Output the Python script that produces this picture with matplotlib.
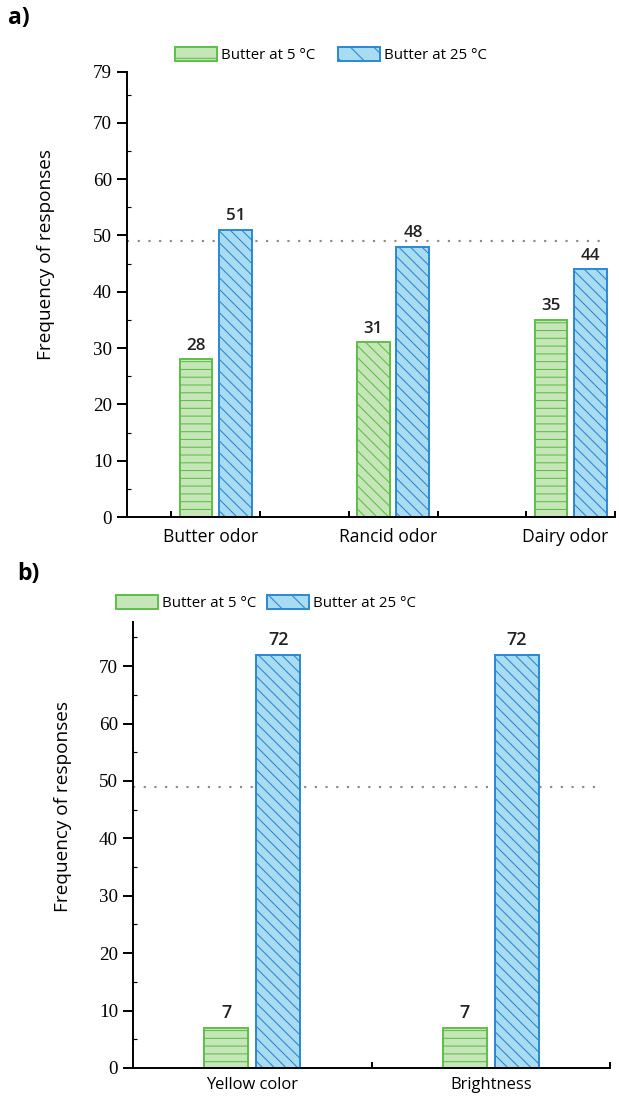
import matplotlib
matplotlib.use("Agg")
import matplotlib.pyplot as plt
import numpy as np
from matplotlib.patches import Patch

# data
cats_a = ["Butter odor", "Rancid odor", "Dairy odor"]
cold_a = [28, 31, 35]
warm_a = [51, 48, 44]
cats_b = ["Yellow color", "Brightness"]
cold_b = [7, 7]
warm_b = [72, 72]
labels = ["Butter at 5 °C", "Butter at 25 °C"]
ref_line = 49

DPI = 140
P = 72 / DPI  # px -> pt

GREEN_E = "#5dbf47"
GREEN_F = "#c6e6b9"
BLUE_E = "#2a88d4"
BLUE_F = "#a9dbf1"

SANS = "Open Sans"
SERIF = "Liberation Serif"

DIAG = "\\" * 4

plt.rcParams["hatch.linewidth"] = 0.55
plt.rcParams["axes.linewidth"] = 1.0

fig = plt.figure(figsize=(619 / DPI, 1097 / DPI), dpi=DPI)

W, H = 619, 1097


def axes_px(l, r, t, b):
    return fig.add_axes([l / W, 1 - b / H, (r - l) / W, (b - t) / H])


def style_axis(ax, ymax, yticks):
    for s in ("top", "right"):
        ax.spines[s].set_visible(False)
    ax.set_ylim(0, ymax)
    ax.set_yticks(yticks)
    ax.set_yticks(np.arange(5, ymax, 10), minor=True)
    ax.tick_params(axis="y", which="major", direction="out", length=10 * P,
                   width=1.0, pad=5 * P, labelsize=19 * P)
    ax.tick_params(axis="y", which="minor", direction="in", length=4 * P, width=0.6)
    for t in ax.get_yticklabels():
        t.set_fontfamily(SERIF)
    ax.axhline(ref_line, xmin=0, xmax=0.975, color="#8a8a8a", lw=1.1,
               ls=(0, (1, 4)), zorder=1)


def value_labels(ax, xs, vals, size):
    for x, v in zip(xs, vals):
        ax.text(x, v + 1.0, str(v), ha="center", va="bottom", fontsize=size * P,
                fontfamily=SANS, fontweight="semibold", color="#222222")


# ---------- panel a ----------
ax1 = axes_px(127, 615, 72, 517)
x = np.arange(len(cats_a))
off, bw = 0.111, 0.185
hatch_a = ["---", DIAG, "---"]
for i in range(len(cats_a)):
    ax1.bar(x[i] - off, cold_a[i], bw, color=GREEN_F, edgecolor=GREEN_E,
            hatch=hatch_a[i], lw=1.0, zorder=2)
ax1.bar(x + off, warm_a, bw, color=BLUE_F, edgecolor=BLUE_E, hatch=DIAG,
        lw=1.0, zorder=2)
ax1.set_xlim(-0.5, 2.25)
style_axis(ax1, 79, [0, 10, 20, 30, 40, 50, 60, 70, 79])
ax1.set_xticks(x - 0.03)
ax1.set_xticklabels(cats_a, fontfamily=SANS, fontsize=17.5 * P)
ax1.set_xticks(np.arange(-0.25, 2.3, 0.5), minor=True)
ax1.tick_params(axis="x", which="major", length=0, pad=11 * P)
ax1.tick_params(axis="x", which="minor", direction="in", length=6 * P, width=1.0)
ax1.set_ylabel("Frequency of responses", fontfamily=SANS, fontsize=19 * P)
ax1.yaxis.set_label_coords(-0.148, 0.589)
value_labels(ax1, x - off, cold_a, 17)
value_labels(ax1, x + off, warm_a, 17)

# ---------- panel b ----------
ax2 = axes_px(133, 610, 622, 1068)
xb = np.arange(len(cats_b))
offb, bwb = 0.109, 0.184
ax2.bar(xb - offb, cold_b, bwb, color=GREEN_F, edgecolor=GREEN_E, hatch="---",
        lw=1.0, zorder=2)
ax2.bar(xb + offb, warm_b, bwb, color=BLUE_F, edgecolor=BLUE_E, hatch=DIAG,
        lw=1.0, zorder=2)
ax2.set_xlim(-0.5, 1.5)
style_axis(ax2, 77.7, [0, 10, 20, 30, 40, 50, 60, 70])
ax2.set_xticks(xb)
ax2.set_xticklabels(cats_b, fontfamily=SANS, fontsize=16.5 * P)
ax2.set_xticks([0.5, 1.5], minor=True)
ax2.tick_params(axis="x", which="major", length=0, pad=9 * P)
ax2.tick_params(axis="x", which="minor", direction="in", length=6 * P, width=1.0)
ax2.set_ylabel("Frequency of responses", fontfamily=SANS, fontsize=19 * P)
ax2.yaxis.set_label_coords(-0.128, 0.587)
value_labels(ax2, xb - offb, cold_b, 18)
value_labels(ax2, xb + offb, warm_b, 18)

# ---------- legends ----------
handles = [Patch(facecolor=GREEN_F, edgecolor=GREEN_E, hatch="-", lw=1.0),
           Patch(facecolor=BLUE_F, edgecolor=BLUE_E, hatch="\\\\", lw=1.0)]
fs_leg = 15 * P
for (lx, ly, cs) in [(175, 55, 1.55), (116, 603, 0.75)]:
    fig.legend(handles, labels, loc="center left",
               bbox_to_anchor=(lx / W, 1 - ly / H), ncol=2, frameon=False,
               prop={"family": SANS, "size": fs_leg}, handlelength=2.8,
               handleheight=1.1, handletextpad=0.25, columnspacing=cs,
               borderpad=0, borderaxespad=0)

fig.text(8 / W, 1 - 18 / H, "a)", fontsize=23 * P, fontweight="bold",
         fontfamily=SANS, va="center", ha="left")
fig.text(17 / W, 1 - 574 / H, "b)", fontsize=23 * P, fontweight="bold",
         fontfamily=SANS, va="center", ha="left")

fig.savefig("out.png", dpi=DPI)
